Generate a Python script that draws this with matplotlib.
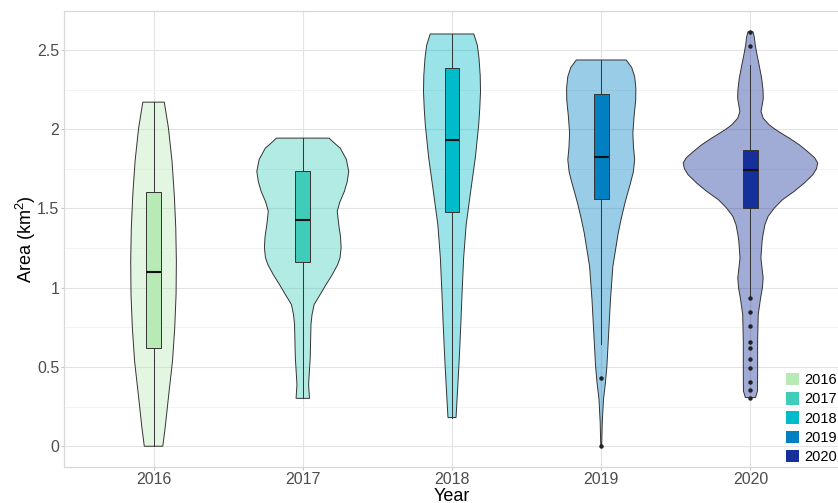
import numpy as np
import matplotlib.pyplot as plt
from matplotlib.patches import Patch, Rectangle
from matplotlib.colors import to_rgba

plt.rcParams['font.family'] = ['Liberation Sans', 'DejaVu Sans']
plt.rcParams['mathtext.fontset'] = 'custom'
plt.rcParams['mathtext.rm'] = 'Liberation Sans'
plt.rcParams['mathtext.it'] = 'Liberation Sans:italic'

years = ['2016', '2017', '2018', '2019', '2020']
colors = ['#B7EAB4', '#3FCDB9', '#00BBCA', '#0080C1', '#15309A']

# violin outlines: area levels and half widths (in category units)
v16_y = [2.171, 2.007, 1.797, 1.587, 1.377, 1.167, 0.957, 0.747, 0.537, 0.327,
         0.118, 0.0]
v16_w = [0.072, 0.100, 0.124, 0.139, 0.149, 0.153, 0.151, 0.142, 0.127, 0.102,
         0.078, 0.062]

v17_y = [1.944, 1.910, 1.881, 1.810, 1.734, 1.670, 1.608, 1.540, 1.482, 1.398,
         1.320, 1.251, 1.190, 1.146, 1.080, 1.020, 0.950, 0.894, 0.830, 0.768,
         0.560, 0.390, 0.302]
v17_w = [0.176, 0.215, 0.251, 0.292, 0.308, 0.298, 0.279, 0.248, 0.231, 0.241,
         0.253, 0.257, 0.250, 0.234, 0.196, 0.156, 0.112, 0.076, 0.062, 0.055,
         0.050, 0.039, 0.045]

v18_y = [2.601, 2.530, 2.448, 2.340, 2.237, 2.130, 2.028, 1.818, 1.608, 1.398,
         1.188, 0.978, 0.768, 0.559, 0.348, 0.181]
v18_w = [0.146, 0.170, 0.181, 0.189, 0.191, 0.186, 0.179, 0.156, 0.125, 0.095,
         0.078, 0.068, 0.059, 0.049, 0.037, 0.027]

v19_y = [2.437, 2.390, 2.332, 2.260, 2.185, 2.080, 1.975, 1.890, 1.807, 1.730,
         1.660, 1.600, 1.535, 1.440, 1.346, 1.135, 0.926, 0.716, 0.506, 0.400,
         0.296, 0.151, 0.002]
v19_w = [0.167, 0.204, 0.224, 0.232, 0.231, 0.220, 0.212, 0.216, 0.224, 0.215,
         0.196, 0.178, 0.159, 0.135, 0.114, 0.078, 0.062, 0.050, 0.038, 0.028,
         0.015, 0.007, 0.003]

v20_y = [2.615, 2.580, 2.532, 2.470, 2.405, 2.322, 2.250, 2.196, 2.150, 2.112,
         2.070, 2.028, 2.000, 1.970, 1.944, 1.900, 1.860, 1.820, 1.787, 1.750,
         1.713, 1.660, 1.608, 1.555, 1.503, 1.450, 1.398, 1.340, 1.293, 1.188,
         1.120, 1.062, 1.000, 0.936, 0.831, 0.663, 0.453, 0.348, 0.307]
v20_w = [0.017, 0.026, 0.032, 0.044, 0.058, 0.075, 0.084, 0.086, 0.078, 0.071,
         0.085, 0.125, 0.165, 0.215, 0.260, 0.330, 0.382, 0.430, 0.451, 0.442,
         0.418, 0.360, 0.293, 0.214, 0.160, 0.118, 0.097, 0.085, 0.078, 0.070,
         0.078, 0.085, 0.080, 0.068, 0.052, 0.048, 0.048, 0.047, 0.034]

violin_y = [v16_y, v17_y, v18_y, v19_y, v20_y]
violin_w = [v16_w, v17_w, v18_w, v19_w, v20_w]

# box statistics: lower whisker, q1, median, q3, upper whisker
whisk_lo = [0.0, 0.302, 0.181, 0.647, 0.940]
q1 = [0.617, 1.163, 1.478, 1.562, 1.503]
med = [1.098, 1.425, 1.933, 1.824, 1.740]
q3 = [1.601, 1.734, 2.385, 2.221, 1.870]
whisk_hi = [2.171, 1.944, 2.601, 2.437, 2.405]

outliers = [[], [], [], [0.432, 0.002],
            [2.615, 2.527, 0.935, 0.848, 0.758, 0.659, 0.617, 0.548, 0.495,
             0.407, 0.355, 0.307]]

fig = plt.figure(figsize=(8.38, 5.03), dpi=100)
ax = fig.add_axes([64 / 838, 36 / 503, 776 / 838, 456 / 503])

line_col = '#333333'
for i, yr in enumerate(years):
    pos = i + 1
    y = np.array(violin_y[i])
    w = np.array(violin_w[i])
    xs = np.concatenate([pos - w, (pos + w)[::-1]])
    ys = np.concatenate([y, y[::-1]])
    ax.fill(xs, ys, facecolor=to_rgba(colors[i], 0.4), edgecolor=line_col,
            lw=0.7, zorder=2)

    ax.plot([pos, pos], [whisk_lo[i], q1[i]], color=line_col, lw=0.7, zorder=3)
    ax.plot([pos, pos], [q3[i], whisk_hi[i]], color=line_col, lw=0.7, zorder=3)
    ax.add_patch(Rectangle((pos - 0.05, q1[i]), 0.1, q3[i] - q1[i],
                           facecolor=colors[i], edgecolor=line_col, lw=0.7,
                           zorder=3))
    ax.plot([pos - 0.05, pos + 0.05], [med[i], med[i]], color='#111111',
            lw=1.5, zorder=4, solid_capstyle='butt')
    if outliers[i]:
        ax.plot([pos] * len(outliers[i]), outliers[i], 'o', color='#222222',
                ms=2.2, zorder=5)

ax.set_xlim(0.4, 5.6)
ax.set_ylim(-0.131, 2.746)
ax.set_xticks(range(1, 6))
ax.set_xticklabels(years)
ax.set_yticks([0, 0.5, 1, 1.5, 2, 2.5])
ax.set_yticklabels(['0', '0.5', '1', '1.5', '2', '2.5'])
ax.set_yticks([0.25, 0.75, 1.25, 1.75, 2.25], minor=True)

ax.grid(which='major', color='#E3E3E3', lw=0.8)
ax.grid(which='minor', axis='y', color='#F1F1F1', lw=0.6)
ax.set_axisbelow(True)
for s in ax.spines.values():
    s.set_color('#D8D8D8')
    s.set_linewidth(0.9)

ax.tick_params(which='major', length=2.5, width=0.6, color='#B8B8B8',
               labelsize=11.5, labelcolor='#4D4D4D', pad=1)
ax.tick_params(which='minor', length=0)

ax.set_xlabel('Year', fontsize=13, color='black')
ax.xaxis.set_label_coords(0.5, -0.045)
ax.set_ylabel('Area (km$^2$)', fontsize=13, color='black')
ax.yaxis.set_label_coords(-0.034, 0.5)

handles = [Patch(facecolor=c, edgecolor='none', label=y) for c, y in zip(colors, years)]
leg = ax.legend(handles=handles, loc='lower right',
                bbox_to_anchor=(837 / 838, 39 / 503), bbox_transform=fig.transFigure,
                fontsize=10.5, frameon=False, handlelength=0.94,
                handleheight=0.94, labelspacing=0.34, handletextpad=0.34,
                borderpad=0, borderaxespad=0)

fig.savefig('out.png', dpi=100)
